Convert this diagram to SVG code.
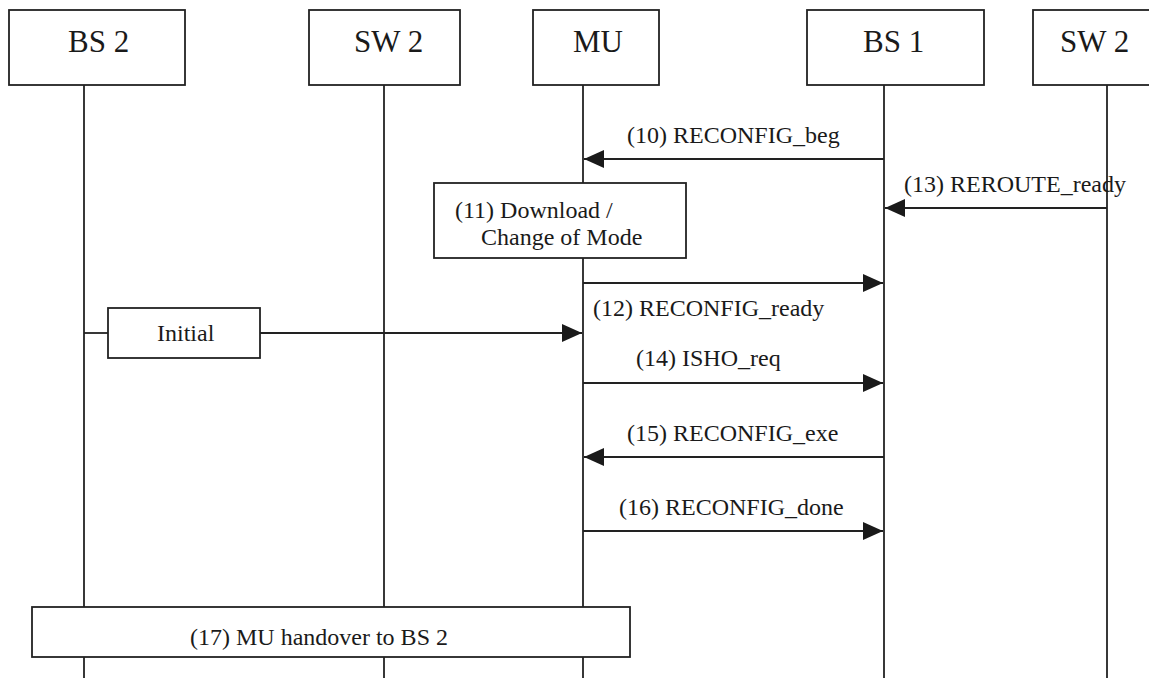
<svg xmlns="http://www.w3.org/2000/svg" width="1149" height="678" viewBox="0 0 1149 678">
  <style>
    .box { fill: #ffffff; stroke: #222222; stroke-width: 1.8; }
    .life { stroke: #222222; stroke-width: 1.8; fill: none; }
    .msg { stroke: #222222; stroke-width: 1.8; fill: none; marker-end: url(#head); }
    .hdr { font-family: "Liberation Serif", "Times New Roman", serif; font-size: 31px; fill: #1a1a1a; }
    .lbl { font-family: "Liberation Serif", "Times New Roman", serif; font-size: 24px; fill: #1a1a1a; }
  </style>
  <defs>
    <marker id="head" markerUnits="userSpaceOnUse" markerWidth="22" markerHeight="20" refX="20" refY="9" orient="auto">
      <polygon points="0,0 20,9 0,18" fill="#1a1a1a"/>
    </marker>
  </defs>
  <rect width="1149" height="678" fill="#ffffff"/>

  <!-- lifelines -->
  <g id="lifelines">
    <line class="life" x1="84" y1="85" x2="84" y2="678"/>
    <line class="life" x1="384" y1="85" x2="384" y2="678"/>
    <line class="life" x1="583" y1="85" x2="583" y2="678"/>
    <line class="life" x1="884" y1="85" x2="884" y2="678"/>
    <line class="life" x1="1107" y1="85" x2="1107" y2="678"/>
  </g>

  <!-- participants -->
  <g id="bs2">
    <rect class="box" x="9" y="10" width="176" height="75"/>
    <text class="hdr" x="68" y="52">BS 2</text>
  </g>
  <g id="sw2a">
    <rect class="box" x="309" y="10" width="151" height="75"/>
    <text class="hdr" x="354" y="52">SW 2</text>
  </g>
  <g id="mu">
    <rect class="box" x="533" y="10" width="126" height="75"/>
    <text class="hdr" x="573" y="52">MU</text>
  </g>
  <g id="bs1">
    <rect class="box" x="807" y="10" width="177" height="75"/>
    <text class="hdr" x="863" y="52">BS 1</text>
  </g>
  <g id="sw2b">
    <rect class="box" x="1033" y="10" width="130" height="75"/>
    <text class="hdr" x="1060" y="52">SW 2</text>
  </g>

  <!-- messages -->
  <g id="connectors">
    <line class="msg" x1="884" y1="159" x2="584" y2="159"/>
    <line class="msg" x1="1107" y1="208" x2="885" y2="208"/>
    <line class="msg" x1="583" y1="283" x2="883" y2="283"/>
    <line class="life" x1="84" y1="333" x2="108" y2="333"/>
    <line class="msg" x1="260" y1="333" x2="582" y2="333"/>
    <line class="msg" x1="583" y1="383" x2="883" y2="383"/>
    <line class="msg" x1="884" y1="457" x2="584" y2="457"/>
    <line class="msg" x1="583" y1="531" x2="883" y2="531"/>
  </g>

  <g id="labels">
    <text class="lbl" x="627" y="143">(10) RECONFIG_beg</text>
    <text class="lbl" x="904" y="192">(13) REROUTE_ready</text>
    <text class="lbl" x="593" y="316">(12) RECONFIG_ready</text>
    <text class="lbl" x="636" y="366">(14) ISHO_req</text>
    <text class="lbl" x="627" y="441">(15) RECONFIG_exe</text>
    <text class="lbl" x="619" y="515">(16) RECONFIG_done</text>
  </g>

  <!-- activity boxes -->
  <g id="download">
    <rect class="box" x="434" y="183" width="252" height="75"/>
    <text class="lbl" x="455" y="218">(11) Download /</text>
    <text class="lbl" x="481" y="245">Change of Mode</text>
  </g>
  <g id="initial">
    <rect class="box" x="108" y="308" width="152" height="50"/>
    <text class="lbl" x="157" y="341" font-size="23">Initial</text>
  </g>
  <g id="handover">
    <rect class="box" x="32" y="607" width="598" height="50"/>
    <text class="lbl" x="190" y="645" font-size="26">(17) MU handover to BS 2</text>
  </g>
</svg>
